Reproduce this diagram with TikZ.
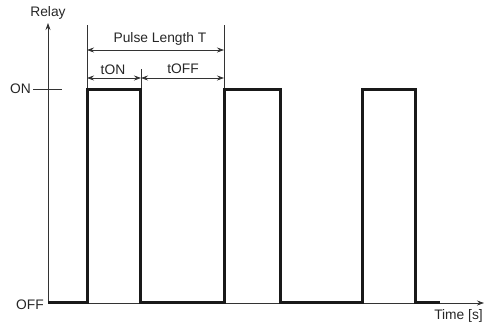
\documentclass[tikz,border=0pt]{standalone}
\usepackage{fontspec}
\setmainfont{Liberation Sans}
\usetikzlibrary{arrows.meta}
\begin{document}
\begin{tikzpicture}[x=1pt,y=-1pt,
  lbl/.style={inner sep=0pt,text=black!85,font=\fontsize{13.8}{16}\selectfont},
  thin/.style={line width=0.7pt,black!80},
  sig/.style={line width=3pt,black!90,line join=miter,line cap=butt},
  dim/.style={thin,{Stealth[length=7pt,width=5pt]}-{Stealth[length=7pt,width=5pt]}},
  axis/.style={thin,-{Stealth[length=7pt,width=5pt]}}]
\useasboundingbox (0,0) rectangle (484,325);
% coordinates
\coordinate (O) at (48,303);
\coordinate (Ytop) at (48,23);
\coordinate (Xend) at (484,303);
% axes
\draw[axis] (O) -- (Ytop);
\draw[axis] (O) -- (Xend);
% ON tick
\coordinate (onL) at (33,89);
\coordinate (onR) at (62,89);
\draw[thin] (onL) -- (onR);
% signal
\draw[sig] (48,302) -- (87,302) -- (87,89) -- (140,89) -- (140,302) -- (224,302) -- (224,89) -- (280,89) -- (280,302) -- (362,302) -- (362,89) -- (415,89) -- (415,302) -- (440,302);
% extension lines
\coordinate (e1t) at (87,25); \coordinate (e1b) at (87,88);
\coordinate (e2t) at (224,25); \coordinate (e2b) at (224,88);
\coordinate (e3t) at (141,69); \coordinate (e3b) at (141,88);
\draw[thin] (e1t) -- (e1b);
\draw[thin] (e2t) -- (e2b);
\draw[thin] (e3t) -- (e3b);
% dimension arrows
\coordinate (pA) at (87,50); \coordinate (pB) at (224,50);
\coordinate (tA) at (87,78); \coordinate (tM) at (141,78); \coordinate (tB) at (224,78);
\draw[dim] (pA) -- (pB);
\draw[dim] (tA) -- (tM);
\draw[dim] (tM) -- (tB);
% labels
\node[lbl] (relay) at (48,13) {Relay};
\node[lbl,anchor=east] (on) at (31,89) {ON};
\node[lbl,anchor=east] (off) at (44,305) {OFF};
\node[lbl,anchor=east] (time) at (483,316) {Time [s]};
\node[lbl] (pulse) at (160,39) {Pulse Length T};
\node[lbl] (ton) at (113,70) {tON};
\node[lbl] (toff) at (183,69) {tOFF};
\end{tikzpicture}
\end{document}
